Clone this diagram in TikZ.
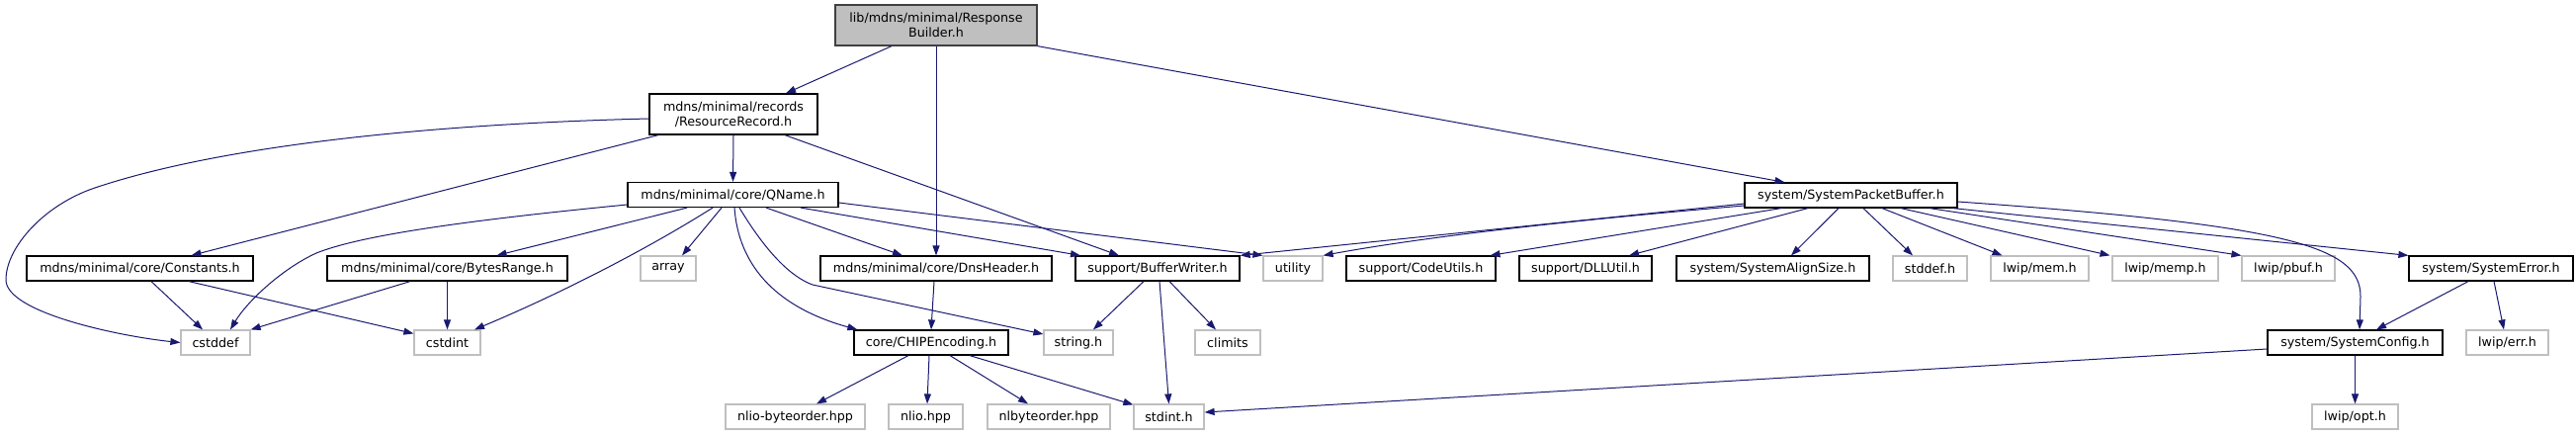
\documentclass[tikz,border=0pt]{standalone}
\usepackage{fontspec}
\setmainfont{DejaVu Sans}
\usetikzlibrary{arrows.meta}
\definecolor{edgeblue}{HTML}{191970}
\definecolor{extgray}{HTML}{BFBFBF}
\definecolor{rootfill}{HTML}{BFBFBF}
\definecolor{rootline}{HTML}{404040}

\begin{document}
\begin{tikzpicture}[x=1pt,y=-1pt,>={Triangle[length=10pt,width=7pt]},
  font=\fontsize{12.7}{15}\selectfont,
  box/.style={draw=black,line width=1.2pt,fill=white,inner sep=0pt,minimum height=25pt,align=center},
  extbox/.style={box,draw=extgray},
  rootbox/.style={box,draw=rootline,fill=rootfill,minimum height=41pt},
  inc/.style={edgeblue,line width=1pt,->}]
  \useasboundingbox[fill=white] (0,0) rectangle (2606,440);

  \node[rootbox,minimum width=204pt] (rb) at (947,25.5) {lib/mdns/minimal/Response\\Builder.h};
  \node[box,minimum width=170pt,minimum height=41pt] (rr) at (742,115.5) {mdns/minimal/records\\/ResourceRecord.h};
  \node[box,minimum width=213pt] (qname) at (741.5,197) {mdns/minimal/core/QName.h};
  \node[box,minimum width=215pt] (spb) at (1872.5,197.5) {system/SystemPacketBuffer.h};

  \node[box,minimum width=229pt] (constants) at (141.5,271.5) {mdns/minimal/core/Constants.h};
  \node[box,minimum width=243pt] (bytesrange) at (452.5,271.5) {mdns/minimal/core/BytesRange.h};
  \node[extbox,minimum width=56pt] (array) at (676,271.5) {array};
  \node[box,minimum width=234pt] (dnsheader) at (947,271.5) {mdns/minimal/core/DnsHeader.h};
  \node[box,minimum width=166pt] (bufwriter) at (1171,271.5) {support/BufferWriter.h};
  \node[extbox,minimum width=60pt] (utility) at (1308,271.5) {utility};
  \node[box,minimum width=151pt] (codeutils) at (1437.5,271.5) {support/CodeUtils.h};
  \node[box,minimum width=134pt] (dllutil) at (1604,271.5) {support/DLLUtil.h};
  \node[box,minimum width=195pt] (alignsize) at (1793.5,271.5) {system/SystemAlignSize.h};
  \node[extbox,minimum width=75pt] (stddefh) at (1952.5,271.5) {stddef.h};
  \node[extbox,minimum width=99pt] (lwipmem) at (2063.5,271.5) {lwip/mem.h};
  \node[extbox,minimum width=107pt] (lwipmemp) at (2190.5,271.5) {lwip/memp.h};
  \node[extbox,minimum width=94pt] (lwippbuf) at (2315,271.5) {lwip/pbuf.h};
  \node[box,minimum width=166pt] (syserror) at (2520,271.5) {system/SystemError.h};

  \node[extbox,minimum width=70pt] (cstddef) at (218,346.5) {cstddef};
  \node[extbox,minimum width=67pt] (cstdint) at (452.5,346.5) {cstdint};
  \node[box,minimum width=156pt] (chipenc) at (942,346.5) {core/CHIPEncoding.h};
  \node[extbox,minimum width=70pt] (stringh) at (1091,346.5) {string.h};
  \node[extbox,minimum width=66pt] (climits) at (1242,346.5) {climits};
  \node[box,minimum width=177pt] (syscfg) at (2382.5,346.5) {system/SystemConfig.h};
  \node[extbox,minimum width=83pt] (lwiperr) at (2536.5,346.5) {lwip/err.h};

  \node[extbox,minimum width=141pt] (nliobo) at (804.5,421.5) {nlio-byteorder.hpp};
  \node[extbox,minimum width=75pt] (nlio) at (936.5,421.5) {nlio.hpp};
  \node[extbox,minimum width=124pt] (nlbo) at (1061,421.5) {nlbyteorder.hpp};
  \node[extbox,minimum width=71pt] (stdinth) at (1182.5,421.5) {stdint.h};
  \node[extbox,minimum width=87pt] (lwipopt) at (2382.5,421.5) {lwip/opt.h};

  \draw[inc] ([xshift=-45pt]rb.south) -- ([xshift=53pt]rr.north);
  \draw[inc] (rb.south) -- (dnsheader.north);
  \draw[inc] (rb.south east) -- ([xshift=-67pt]spb.north);

  \draw[inc] ([yshift=-4.5pt]rr.west) .. controls (450,125) and (230,145) .. (96,190)
        .. controls (45,207) and (6,250) .. (6,283) .. controls (6,316) and (120,340) .. (cstddef.west);
  \draw[inc] ([xshift=-76pt]rr.south) -- ([xshift=52pt]constants.north);
  \draw[inc] (rr.south) -- (qname.north);
  \draw[inc] ([xshift=52pt]rr.south) -- ([xshift=-39pt]bufwriter.north);

  \draw[inc] ([yshift=-10pt]qname.west) .. controls (450,225) and (360,240) .. (320,256)
        .. controls (285,272) and (250,305) .. ([xshift=15pt]cstddef.north);
  \draw[inc] ([xshift=-46.5pt]qname.south) -- ([xshift=50pt]bytesrange.north);
  \draw[inc] ([xshift=-20.5pt]qname.south) .. controls (650,255) and (560,300) .. ([xshift=27.5pt]cstdint.north);
  \draw[inc] ([xshift=-11.5pt]qname.south) -- ([xshift=14pt]array.north);
  \draw[inc] ([xshift=1.5pt]qname.south) .. controls (748,280) and (800,315) .. ([xshift=4pt]chipenc.north west);
  \draw[inc] ([xshift=6.5pt]qname.south) .. controls (775,255) and (800,280) .. (822,288) -- ([yshift=8.5pt]stringh.west);
  \draw[inc] ([xshift=33.5pt]qname.south) -- ([xshift=-34pt]dnsheader.north);
  \draw[inc] ([xshift=68.5pt]qname.south) -- ([xshift=-78pt]bufwriter.north);
  \draw[inc] ([yshift=-8pt]qname.east) -- (utility.north west);

  \draw[inc] ([xshift=11.5pt]constants.south) -- ([xshift=-13pt]cstddef.north);
  \draw[inc] ([xshift=49.5pt]constants.south) -- ([yshift=-4pt]cstdint.north west);
  \draw[inc] ([xshift=-37.5pt]bytesrange.south) -- (cstddef.north east);
  \draw[inc] (bytesrange.south) -- (cstdint.north);
  \draw[inc] ([xshift=-2pt]dnsheader.south) -- (chipenc.north);

  \draw[inc] ([xshift=-14pt]bufwriter.south) -- ([xshift=15pt]stringh.north);
  \draw[inc] ([xshift=2pt]bufwriter.south) -- (stdinth.north);
  \draw[inc] ([xshift=12pt]bufwriter.south) -- ([xshift=-12pt]climits.north);

  \draw[inc] ([xshift=-23pt]chipenc.south) -- ([xshift=21.5pt]nliobo.north);
  \draw[inc] ([xshift=-2pt]chipenc.south) -- ([xshift=1.5pt]nlio.north);
  \draw[inc] ([xshift=19pt]chipenc.south) -- ([xshift=-21pt]nlbo.north);
  \draw[inc] ([xshift=39pt]chipenc.south) -- ([yshift=-1pt]stdinth.north west);

  \draw[inc] ([yshift=-8.5pt]spb.west) -- (bufwriter.north east);
  \draw[inc] ([yshift=-10.5pt]spb.west) .. controls (1600,222) and (1450,238) .. (utility.north east);
  \draw[inc] ([xshift=-70.5pt]spb.south) -- ([xshift=70pt]codeutils.north);
  \draw[inc] ([xshift=-43.5pt]spb.south) -- ([xshift=44pt]dllutil.north);
  \draw[inc] ([xshift=-12.5pt]spb.south) -- ([xshift=18.5pt]alignsize.north);
  \draw[inc] ([xshift=12.5pt]spb.south) -- ([xshift=-17.5pt]stddefh.north);
  \draw[inc] ([xshift=31.5pt]spb.south) -- ([xshift=-38pt]lwipmem.north);
  \draw[inc] ([xshift=50.5pt]spb.south) -- ([xshift=-56pt]lwipmemp.north);
  \draw[inc] ([xshift=79.5pt]spb.south) -- (lwippbuf.north west);
  \draw[inc] ([xshift=-5pt]spb.south east) -- (syserror.north west);
  \draw[inc] ([yshift=-6.5pt]spb.east) .. controls (2320,228) and (2388,250) .. (2388,300) -- ([xshift=4.5pt]syscfg.north);

  \draw[inc] ([xshift=-23pt]syserror.south) -- ([xshift=21.5pt]syscfg.north);
  \draw[inc] ([xshift=3pt]syserror.south) -- ([xshift=-3.5pt]lwiperr.north);
  \draw[inc] ([yshift=-6.5pt]syscfg.west) -- ([yshift=4.5pt]stdinth.east);
  \draw[inc] (syscfg.south) -- (lwipopt.north);
\end{tikzpicture}
\end{document}
